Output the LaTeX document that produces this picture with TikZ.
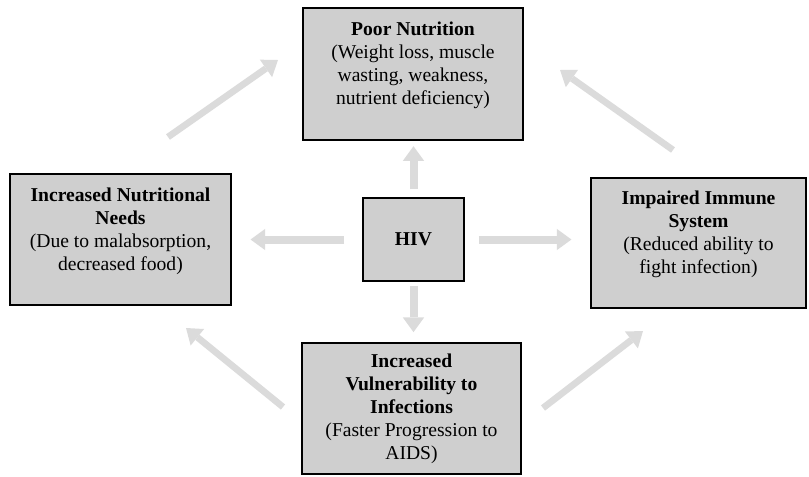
\documentclass[tikz,border=0pt]{standalone}
\usepackage{fontspec}
\setmainfont{Liberation Serif}
\usepackage{tikz}
\usetikzlibrary{calc, positioning, arrows.meta}

\begin{document}
\begin{tikzpicture}[x=0.75pt, y=-0.75pt,
        box/.style={draw=black, line width=1.3pt, fill=black!19, align=center,
            font=\fontsize{14.7}{17.3}\selectfont, inner sep=0pt},
        lifted/.style={text depth=16pt},
        fat/.style={draw=black!14, line width=6pt,
            -{Triangle[width=16pt, length=11pt, line width=0pt]}},
        diag/.style={fat, line width=5pt}]
            \useasboundingbox (0,0) rectangle (809,476);

            % the five boxes
            \node[box, lifted, minimum width=165pt, minimum height=99pt] (nutr) at (413,74)
                {\textbf{Poor Nutrition}\\(Weight loss, muscle\\wasting, weakness,\\nutrient deficiency)};
            \node[box, lifted, minimum width=165.75pt, minimum height=98.25pt] (needs) at (120.5,239.5)
                {\textbf{Increased Nutritional}\\\textbf{Needs}\\(Due to malabsorption,\\decreased food)};
            \node[box, lifted, minimum width=161.25pt, minimum height=97.5pt] (immune) at (698.5,243)
                {\textbf{Impaired Immune}\\\textbf{System}\\(Reduced ability to\\fight infection)};
            \node[box, minimum width=75.75pt, minimum height=62.25pt] (hiv) at (413.5,239.5)
                {\textbf{HIV}};
            \node[box, minimum width=164.25pt, minimum height=98.25pt] (infect) at (411.5,408.5)
                {\textbf{Increased}\\\textbf{Vulnerability to}\\\textbf{Infections}\\(Faster Progression to\\AIDS)};

            % HIV out to the four sides
            \draw[fat, shorten <=6pt, shorten >=4pt] (hiv.north) -- (hiv.north |- nutr.south);
            \draw[fat, shorten <=13.5pt, shorten >=14pt] (hiv.west) -- (needs.east);
            \draw[fat, shorten <=10.5pt, shorten >=14pt] (hiv.east) -- (hiv.east -| immune.west);
            \draw[fat, shorten <=3pt, shorten >=7.5pt] (hiv.south) -- (hiv.south |- infect.north);

            % the cycle round the corners
            \coordinate (needs-out) at (168,137);
            \coordinate (nutr-inL) at (278,60);
            \coordinate (immune-out) at (673,150);
            \coordinate (nutr-inR) at (560,70);
            \coordinate (infect-outL) at (283,407);
            \coordinate (needs-in) at (186,328);
            \coordinate (infect-outR) at (543,408);
            \coordinate (immune-in) at (643,331);

            \draw[diag] (needs-out) -- (nutr-inL);
            \draw[diag] (immune-out) -- (nutr-inR);
            \draw[diag] (infect-outL) -- (needs-in);
            \draw[diag] (infect-outR) -- (immune-in);

        \end{tikzpicture}
\end{document}
